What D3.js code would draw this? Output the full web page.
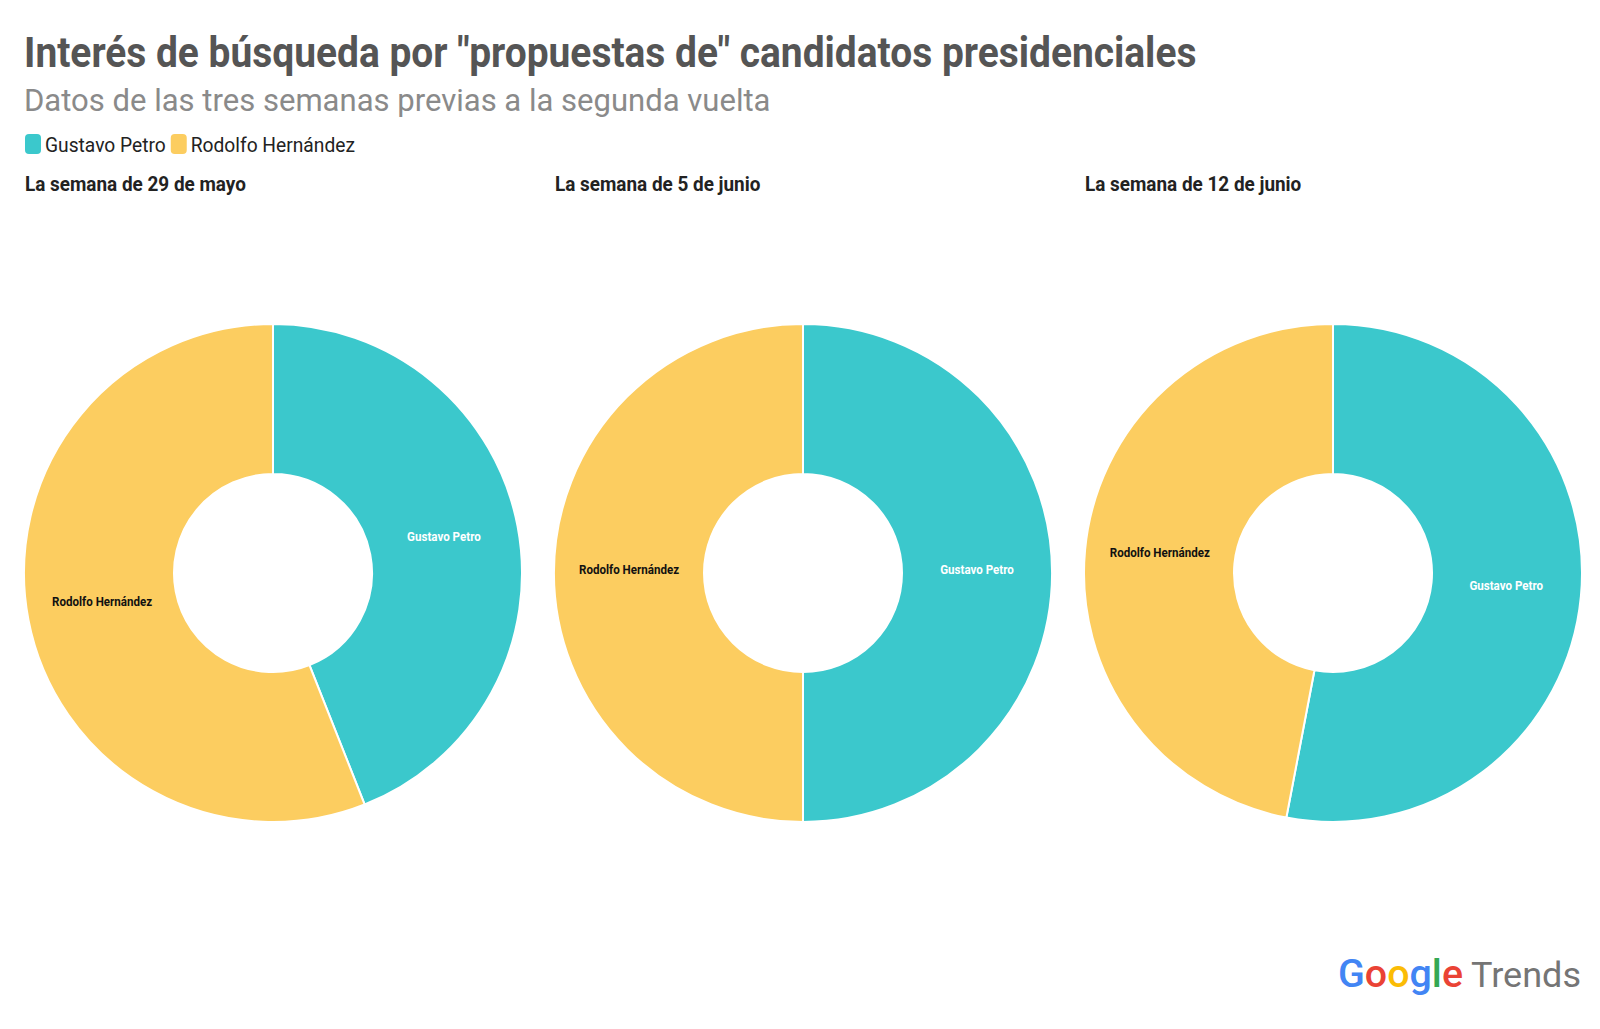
<!DOCTYPE html>
<html>
<head>
<meta charset="utf-8">
<script src="https://cdn.jsdelivr.net/npm/d3@7"></script>
<style>
  body { margin: 0; background: #fff; }
  text { font-family: Roboto, "Noto Sans", sans-serif; }
</style>
</head>
<body>
<div id="chart"></div>
<script>
// data
var candidates = ["Gustavo Petro", "Rodolfo Hernández"];
var colors = ["#3bc8cc", "#fccd60"];
var labelColors = ["#ffffff", "#111111"];
var weeks = ["La semana de 29 de mayo", "La semana de 5 de junio", "La semana de 12 de junio"];
var petroShare = [44, 50, 53];
var hernandezShare = [56, 50, 47];

var W = 1600, H = 1029;
var svg = d3.select("#chart").append("svg").attr("width", W).attr("height", H);

// squash Roboto glyphs so it reads like the condensed face
function condense(sel, f) {
    sel.each(function () {
        var w = this.getComputedTextLength();
        d3.select(this).attr("textLength", w * f).attr("lengthAdjust", "spacingAndGlyphs");
    });
}

svg.append("text").attr("x", 24).attr("y", 67)
    .attr("font-size", 43).attr("font-weight", 700).attr("fill", "#555555")
    .text('Interés de búsqueda por "propuestas de" candidatos presidenciales')
    .call(condense, 0.905);

svg.append("text").attr("x", 24).attr("y", 111)
    .attr("font-size", 32).attr("fill", "#8a8a8a")
    .text("Datos de las tres semanas previas a la segunda vuelta")
    .call(condense, 0.97);

// legend
var lx = 25;
candidates.forEach(function (c, i) {
    svg.append("rect").attr("x", lx).attr("y", 134).attr("width", 16).attr("height", 20)
        .attr("rx", 4).attr("fill", colors[i]);
    var t = svg.append("text").attr("x", lx + 20).attr("y", 152)
        .attr("font-size", 20).attr("fill", "#222").text(c).call(condense, 0.96);
    lx += 20 + t.node().getComputedTextLength() + 5;
});

var panelX = d3.scalePoint().domain(weeks).range([25, 1085]);
var rOuter = 249, rInner = 99, cy = 573;

var pie = d3.pie().sort(null).value(function (d) { return d.v; });
var arc = d3.arc().innerRadius(rInner).outerRadius(rOuter);

weeks.forEach(function (w, k) {
    var x0 = panelX(w);
    svg.append("text").attr("x", x0).attr("y", 191)
        .attr("font-size", 19.5).attr("font-weight", 700).attr("fill", "#222")
        .text(w).call(condense, 0.97);

    var data = [
        {name: candidates[0], v: petroShare[k], i: 0},
        {name: candidates[1], v: hernandezShare[k], i: 1}
    ];
    var g = svg.append("g").attr("transform", "translate(" + (x0 + 248) + "," + cy + ")");
    var arcs = pie(data);
    g.selectAll("path").data(arcs).enter().append("path")
        .attr("d", arc)
        .attr("fill", function (d) { return colors[d.data.i]; })
        .attr("stroke", "#fff").attr("stroke-width", 2);
    g.selectAll("text.lbl").data(arcs).enter().append("text")
        .attr("class", "lbl")
        .attr("transform", function (d) { return "translate(" + arc.centroid(d) + ")"; })
        .attr("text-anchor", "middle").attr("dy", "0.05em")
        .attr("font-size", 13).attr("font-weight", 700)
        .attr("fill", function (d) { return labelColors[d.data.i]; })
        .text(function (d) { return d.data.name; })
        .call(condense, 0.89);
});

// Google Trends mark
var logo = svg.append("text").attr("x", 1338).attr("y", 987).attr("font-size", 38)
    .attr("font-weight", 500).attr("textLength", 125).attr("lengthAdjust", "spacingAndGlyphs");
var gl = [["G", "#4285f4"], ["o", "#ea4335"], ["o", "#fbbc05"], ["g", "#4285f4"], ["l", "#34a853"], ["e", "#ea4335"]];
gl.forEach(function (p) { logo.append("tspan").attr("fill", p[1]).text(p[0]); });
svg.append("text").attr("x", 1471).attr("y", 987).attr("font-size", 35)
    .attr("fill", "#757575").attr("textLength", 110).attr("lengthAdjust", "spacingAndGlyphs")
    .text("Trends");
</script>
</body>
</html>
